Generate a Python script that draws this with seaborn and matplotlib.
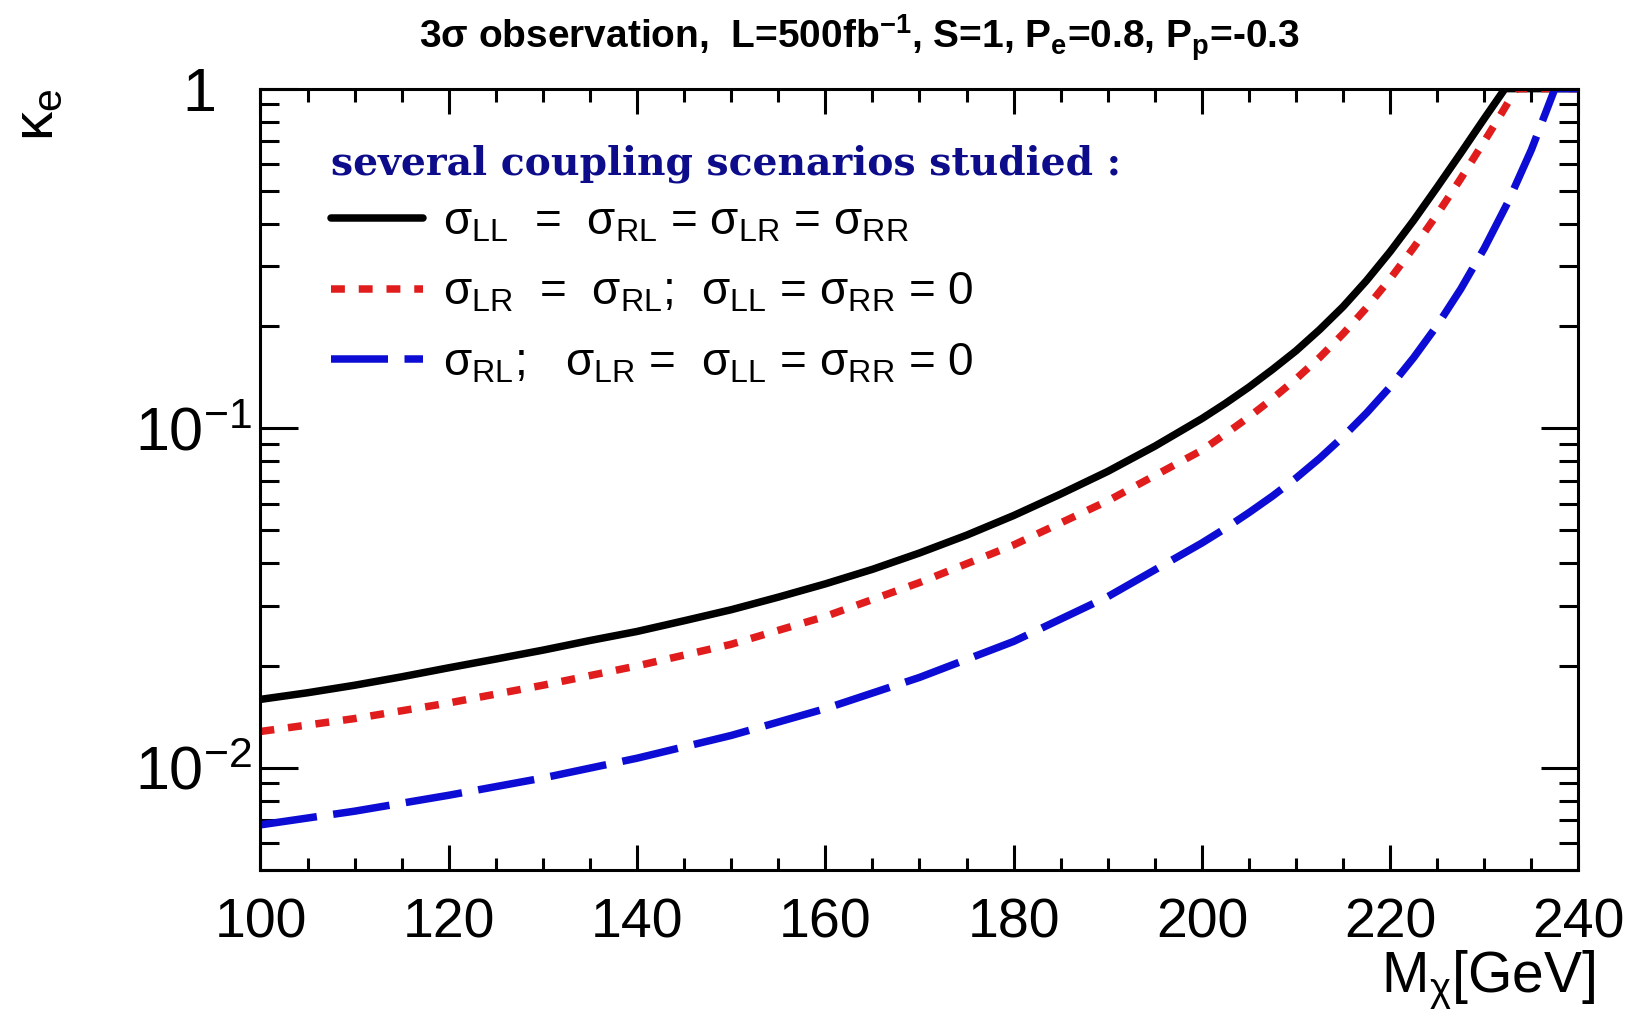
import numpy as np
import pandas as pd
import matplotlib
matplotlib.use("Agg")
import matplotlib.pyplot as plt
import seaborn as sns
from matplotlib.lines import Line2D
from matplotlib.ticker import MultipleLocator, LogLocator, NullFormatter, FixedLocator
from matplotlib.font_manager import FontProperties
from matplotlib.transforms import ScaledTranslation

# ---------------- data ----------------
mass_all = [100, 105, 110, 115, 120, 125, 130, 135, 140, 145, 150, 155, 160, 165,
            170, 175, 180, 185, 190, 195, 200, 202.5, 205, 207.5, 210, 212.5, 215,
            217.5, 220, 222.5, 225, 227.5, 230, 232.2, 240]
kappa_all = [0.0159, 0.01663, 0.0175, 0.01853, 0.0197, 0.0209, 0.0222, 0.0237,
             0.0252, 0.0271, 0.0292, 0.0318, 0.0348, 0.0384, 0.0429, 0.0484,
             0.0553, 0.0640, 0.0746, 0.0885, 0.1067, 0.1183, 0.1321, 0.1489, 0.1690,
             0.1950, 0.2280, 0.2723, 0.3311, 0.4093, 0.5129, 0.6457, 0.8166, 1.0, 1.0]

mass_lr_rl = [100, 110, 120, 130, 140, 150, 160, 170, 180, 190, 200, 202.5, 205,
              207.5, 210, 212.5, 215, 217.5, 220, 222.5, 225, 227.5, 230, 231.5,
              233.4, 240]
kappa_lr_rl = [0.01279, 0.01396, 0.01552, 0.0175, 0.01995, 0.0231, 0.0279, 0.0351,
               0.0453, 0.0611, 0.0861, 0.0962, 0.1079, 0.1222, 0.1396, 0.1614, 0.1897,
               0.2265, 0.2754, 0.3404, 0.4266, 0.5433, 0.6998, 0.8166, 1.0, 1.0]

mass_rl = [100, 110, 120, 130, 140, 150, 160, 170, 180, 190, 200, 202.5, 205, 207.5,
           210, 212.5, 215, 217.5, 220, 222.5, 225, 227.5, 230, 232.5, 235, 237.5, 240]
kappa_rl = [0.00679, 0.00745, 0.0083, 0.00933, 0.01067, 0.01245, 0.01493, 0.01845,
            0.02355, 0.0319, 0.0459, 0.0507, 0.0564, 0.0631, 0.0713, 0.0815, 0.0944,
            0.1109, 0.1324, 0.1614, 0.2009, 0.2570, 0.3388, 0.4624, 0.6607, 1.0, 1.0]

scenario_names = ["all", "lr_rl", "rl"]
legend_labels = [
    "σ$_{LL}$  =  σ$_{RL}$ = σ$_{LR}$ = σ$_{RR}$",
    "σ$_{LR}$  =  σ$_{RL}$;  σ$_{LL}$ = σ$_{RR}$ = 0",
    "σ$_{RL}$;   σ$_{LR}$ =  σ$_{LL}$ = σ$_{RR}$ = 0",
]
legend_header = "several coupling scenarios studied :"
title_text = "3σ observation,  L=500fb$^{-1}$, S=1, P$_e$=0.8, P$_p$=-0.3"
x_ticks = [100, 120, 140, 160, 180, 200, 220, 240]
y_ticks = [0.01, 0.1, 1]
y_tick_labels = ["10$^{-2}$", "10$^{-1}$", "1"]

# ---------------- styling ----------------
sns.set_theme(style="ticks")
plt.rcParams["font.family"] = ["Liberation Sans", "DejaVu Sans"]
plt.rcParams["mathtext.default"] = "regular"
plt.rcParams["axes.linewidth"] = 2.2
for key in ["text.color", "axes.labelcolor", "xtick.color", "ytick.color",
            "axes.edgecolor", "xtick.labelcolor", "ytick.labelcolor"]:
    plt.rcParams[key] = "black"

colors = {"all": "#000000", "lr_rl": "#e01c1c", "rl": "#0c0cd4"}
dashes = {"all": "", "lr_rl": (1.85, 1.85), "rl": (7.6, 2.2)}
LW = 5.4

df = pd.concat([
    pd.DataFrame({"mass": mass_all, "kappa": kappa_all, "scenario": "all"}),
    pd.DataFrame({"mass": mass_lr_rl, "kappa": kappa_lr_rl, "scenario": "lr_rl"}),
    pd.DataFrame({"mass": mass_rl, "kappa": kappa_rl, "scenario": "rl"}),
], ignore_index=True)

fig = plt.figure(figsize=(16.34, 10.21), dpi=100)
ax = fig.add_axes([0.1594, 0.1479, 0.8066, 0.7653])

sns.lineplot(data=df, x="mass", y="kappa", hue="scenario", style="scenario",
             palette=colors, dashes=dashes, hue_order=scenario_names,
             style_order=scenario_names, linewidth=LW, errorbar=None,
             legend=False, ax=ax)

ax.set_yscale("log")
ax.set_xlim(100, 240)
ax.set_ylim(0.005, 1)

ax.xaxis.set_major_locator(FixedLocator(x_ticks))
ax.xaxis.set_minor_locator(MultipleLocator(5))
ax.set_yticks(y_ticks)
ax.set_yticklabels(y_tick_labels)
ax.yaxis.set_minor_locator(LogLocator(base=10, subs=np.arange(2, 10)))
ax.yaxis.set_minor_formatter(NullFormatter())

ax.tick_params(which="both", direction="in", top=True, right=True, colors="black")
ax.tick_params(axis="x", which="major", length=18, width=2.2, pad=20, labelsize=40)
ax.tick_params(axis="x", which="minor", length=9, width=2.2)
ax.tick_params(axis="y", which="major", length=27, width=2.2, pad=6, labelsize=44)
ax.tick_params(axis="y", which="minor", length=14, width=2.2)
for s in ax.spines.values():
    s.set_color("black")
    s.set_linewidth(2.2)

ax.set_xlabel("M$_{χ}$[GeV]", fontsize=41, loc="right")
ax.xaxis.set_label_coords(1.0125, -0.100)
ax.set_ylabel("κ$_{e}$", fontsize=42, loc="top")
ax.yaxis.set_label_coords(-0.148, 1.0)

fig.text(0.5257, 0.963, title_text, ha="center", va="center",
         fontsize=28, fontweight="bold", color="black")

handles = [Line2D([], [], color=colors[n], lw=LW,
                  linestyle="-" if dashes[n] == "" else (0, dashes[n]))
           for n in scenario_names]
leg = ax.legend(handles, legend_labels, loc="upper left",
                bbox_to_anchor=(0.0535, 0.928), frameon=False,
                fontsize=33, handlelength=2.0, handletextpad=0.45,
                labelspacing=0.58, borderpad=0, borderaxespad=0,
                title=legend_header, alignment="left",
                title_fontproperties=FontProperties(family="DejaVu Serif",
                                                    weight="bold", size=28.3))
leg.get_title().set_color("#0d0d8c")
for t in leg.get_texts():
    t.set_color("black")
# tighten the gap between the header and the first entry
leg._legend_box.sep = 12

# shift the "1" tick label left, as in the reference
for lbl in ax.get_yticklabels():
    if lbl.get_text() == "1":
        lbl.set_transform(lbl.get_transform() +
                          ScaledTranslation(-0.36, 0, fig.dpi_scale_trans))

fig.savefig("out.png", dpi=100)
